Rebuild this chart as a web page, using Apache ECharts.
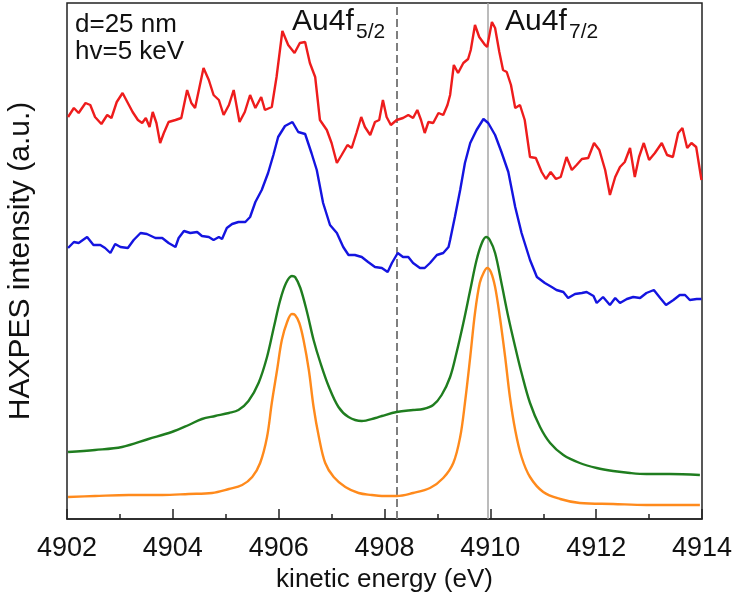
<!DOCTYPE html>
<html>
<head>
<meta charset="utf-8">
<script src="https://cdn.jsdelivr.net/npm/echarts@6/dist/echarts.min.js"></script>
<style>
  html, body { margin: 0; padding: 0; background: #fff; }
  #chart { width: 734px; height: 596px; }
</style>
</head>
<body>
<div id="chart"></div>
<script>
// kinetic energy (eV) vs HAXPES intensity (a.u., offset traces)
const redData = [
  [4902.02, 402], [4902.13, 411], [4902.22, 406], [4902.35, 416], [4902.44, 414], [4902.53, 402],
  [4902.65, 395], [4902.76, 404], [4902.84, 401], [4902.94, 417], [4903.05, 426], [4903.17, 414],
  [4903.24, 407], [4903.34, 399], [4903.42, 396], [4903.49, 401], [4903.56, 392], [4903.62, 407],
  [4903.69, 396], [4903.76, 376], [4903.83, 386], [4903.92, 397], [4904.05, 399], [4904.16, 401],
  [4904.27, 429], [4904.35, 416], [4904.42, 411], [4904.58, 451], [4904.68, 439], [4904.77, 424],
  [4904.87, 419], [4904.96, 404], [4905.06, 414], [4905.15, 429], [4905.26, 397], [4905.36, 407],
  [4905.46, 424], [4905.56, 411], [4905.67, 422], [4905.74, 409], [4905.87, 412], [4905.96, 442],
  [4906.07, 488], [4906.18, 474], [4906.30, 466], [4906.40, 476], [4906.50, 477], [4906.59, 456],
  [4906.69, 442], [4906.78, 399], [4906.91, 389], [4907.00, 376], [4907.10, 356], [4907.19, 364],
  [4907.30, 374], [4907.38, 371], [4907.47, 386], [4907.56, 402], [4907.63, 392], [4907.73, 384],
  [4907.82, 397], [4907.90, 399], [4907.97, 419], [4908.04, 402], [4908.12, 394], [4908.23, 399],
  [4908.35, 401], [4908.45, 404], [4908.54, 401], [4908.62, 409], [4908.69, 399], [4908.76, 386],
  [4908.83, 397], [4908.92, 396], [4909.02, 406], [4909.11, 404], [4909.19, 414], [4909.24, 424],
  [4909.31, 454], [4909.39, 446], [4909.49, 456], [4909.58, 460], [4909.63, 469], [4909.71, 494],
  [4909.79, 482], [4909.90, 474], [4909.94, 472], [4910.03, 497], [4910.09, 491], [4910.17, 467],
  [4910.24, 449], [4910.31, 447], [4910.39, 434], [4910.47, 411], [4910.56, 414], [4910.65, 399],
  [4910.75, 362], [4910.86, 361], [4910.97, 347], [4911.05, 340], [4911.14, 347], [4911.24, 340],
  [4911.33, 342], [4911.44, 362], [4911.54, 349], [4911.63, 354], [4911.73, 360], [4911.85, 361],
  [4911.96, 376], [4912.06, 369], [4912.17, 349], [4912.26, 324], [4912.36, 342], [4912.45, 352],
  [4912.54, 357], [4912.64, 371], [4912.73, 342], [4912.81, 362], [4912.90, 376], [4913.00, 359],
  [4913.11, 366], [4913.24, 376], [4913.34, 364], [4913.45, 362], [4913.55, 386], [4913.63, 391],
  [4913.72, 371], [4913.80, 376], [4913.89, 372], [4913.99, 339]
];

const blueData = [
  [4902.02, 271], [4902.13, 277], [4902.22, 276], [4902.38, 282], [4902.50, 274], [4902.63, 274],
  [4902.72, 271], [4902.82, 266], [4902.91, 275], [4903.01, 272], [4903.15, 271], [4903.26, 279],
  [4903.39, 286], [4903.51, 285], [4903.67, 281], [4903.80, 281], [4903.92, 276], [4904.05, 272],
  [4904.11, 281], [4904.21, 288], [4904.33, 286], [4904.46, 287], [4904.55, 283], [4904.68, 282],
  [4904.77, 279], [4904.87, 282], [4904.93, 280], [4905.02, 291], [4905.12, 295], [4905.24, 297],
  [4905.37, 297], [4905.46, 302], [4905.56, 317], [4905.68, 329], [4905.80, 346], [4905.90, 364],
  [4905.99, 382], [4906.12, 393], [4906.26, 397], [4906.37, 387], [4906.50, 385], [4906.62, 366],
  [4906.72, 349], [4906.84, 316], [4906.97, 294], [4907.10, 286], [4907.22, 272], [4907.32, 264],
  [4907.44, 264], [4907.57, 262], [4907.69, 257], [4907.82, 252], [4907.95, 251], [4908.06, 247],
  [4908.14, 256], [4908.25, 266], [4908.35, 262], [4908.45, 262], [4908.54, 256], [4908.67, 251],
  [4908.76, 251], [4908.86, 256], [4908.99, 264], [4909.11, 266], [4909.21, 272], [4909.24, 279],
  [4909.33, 302], [4909.43, 329], [4909.52, 356], [4909.62, 376], [4909.74, 389], [4909.87, 400],
  [4909.96, 396], [4910.09, 384], [4910.21, 367], [4910.34, 347], [4910.47, 312], [4910.59, 286],
  [4910.75, 259], [4910.88, 242], [4911.03, 236], [4911.16, 232], [4911.25, 229], [4911.38, 227],
  [4911.47, 221], [4911.60, 225], [4911.73, 226], [4911.82, 227], [4911.95, 223], [4912.01, 216],
  [4912.13, 222], [4912.26, 214], [4912.36, 221], [4912.45, 216], [4912.58, 220], [4912.70, 222],
  [4912.83, 221], [4912.95, 226], [4913.09, 229], [4913.21, 221], [4913.32, 214], [4913.46, 219],
  [4913.58, 224], [4913.68, 224], [4913.77, 219], [4913.90, 220], [4913.99, 220]
];

const greenData = [
  [4902.02, 67], [4902.53, 69], [4903.04, 72], [4903.54, 80], [4903.98, 87], [4904.30, 94],
  [4904.55, 100], [4904.80, 103], [4905.06, 106], [4905.24, 109], [4905.43, 118], [4905.62, 136],
  [4905.78, 162], [4905.91, 192], [4906.03, 219], [4906.14, 236], [4906.25, 243], [4906.31, 242],
  [4906.41, 231], [4906.54, 206], [4906.66, 179], [4906.79, 156], [4906.95, 132], [4907.13, 112],
  [4907.32, 102], [4907.57, 98], [4907.83, 101], [4907.95, 103], [4908.23, 107], [4908.54, 109],
  [4908.73, 110], [4908.92, 114], [4909.08, 124], [4909.24, 142], [4909.36, 166], [4909.49, 196],
  [4909.62, 229], [4909.74, 259], [4909.84, 276], [4909.92, 282], [4909.99, 279], [4910.09, 266],
  [4910.21, 236], [4910.34, 202], [4910.47, 172], [4910.59, 146], [4910.75, 116], [4910.94, 92],
  [4911.13, 76], [4911.38, 64], [4911.69, 56], [4912.01, 51], [4912.32, 48], [4912.64, 46],
  [4912.95, 45], [4913.39, 45], [4913.96, 44]
];

const orangeData = [
  [4902.02, 22], [4902.53, 23], [4903.17, 24], [4903.80, 24], [4904.30, 25], [4904.74, 26],
  [4905.06, 30], [4905.31, 34], [4905.50, 42], [4905.65, 56], [4905.78, 82], [4905.87, 116],
  [4905.97, 149], [4906.06, 179], [4906.16, 197], [4906.25, 205], [4906.31, 204], [4906.39, 196],
  [4906.47, 179], [4906.57, 149], [4906.66, 112], [4906.76, 82], [4906.88, 56], [4907.04, 42],
  [4907.26, 32], [4907.51, 26], [4907.76, 24], [4907.95, 23], [4908.23, 23], [4908.54, 26],
  [4908.86, 31], [4909.11, 41], [4909.30, 56], [4909.43, 82], [4909.52, 116], [4909.62, 162],
  [4909.71, 206], [4909.80, 236], [4909.88, 247], [4909.94, 251], [4910.01, 247], [4910.09, 232],
  [4910.18, 202], [4910.28, 162], [4910.37, 122], [4910.47, 89], [4910.59, 62], [4910.75, 42],
  [4911.00, 27], [4911.32, 20], [4911.69, 16], [4912.32, 15], [4912.95, 14], [4913.96, 14]
];

const xTicks = [4902, 4904, 4906, 4908, 4910, 4912, 4914];
const peakLines = [
  { x: 4908.23, type: 'dashed', color: '#7f7f7f', width: 2 },
  { x: 4909.96, type: 'solid', color: '#a6a6a6', width: 1.5 }
];

const FONT = '"Liberation Sans", Arial, sans-serif';
const chart = echarts.init(document.getElementById('chart'));

function lineSeries(name, data, color, extra) {
  return Object.assign({
    name,
    type: 'line',
    data,
    showSymbol: false,
    symbol: 'none',
    lineStyle: { color, width: 2.4 },
    itemStyle: { color },
    z: 3
  }, extra || {});
}

chart.setOption({
  backgroundColor: '#fff',
  animation: false,
  grid: {
    left: 67, right: 32, top: 3, bottom: 77,
    outerBoundsMode: 'none',
    containLabel: false,
    show: true, borderColor: '#222', borderWidth: 1.5, backgroundColor: 'transparent'
  },
  xAxis: {
    type: 'value',
    min: xTicks[0],
    max: xTicks[xTicks.length - 1],
    interval: 2,
    name: 'kinetic energy (eV)',
    nameLocation: 'middle',
    nameGap: 46,
    nameTextStyle: { fontFamily: FONT, fontSize: 26, color: '#111' },
    axisLine: { show: true, lineStyle: { color: '#222', width: 1.5 } },
    axisTick: { show: true, inside: true, length: 10, lineStyle: { color: '#222', width: 1.5 } },
    minorTick: { show: true, splitNumber: 2, length: 5, lineStyle: { color: '#222', width: 1.5 } },
    axisLabel: { fontFamily: FONT, fontSize: 27, color: '#111', margin: 16, formatter: v => String(v) },
    splitLine: { show: false }
  },
  yAxis: {
    type: 'value',
    min: 0,
    max: 516,
    name: 'HAXPES intensity (a.u.)',
    nameLocation: 'middle',
    nameGap: 31,
    nameTextStyle: { fontFamily: FONT, fontSize: 30, color: '#111' },
    axisLine: { show: false },
    axisTick: { show: false },
    axisLabel: { show: false },
    splitLine: { show: false }
  },
  series: [
    lineSeries('d=25 nm', redData, '#ee1c1c', {
      markLine: {
        silent: true,
        symbol: 'none',
        label: { show: false },
        z: 1,
        data: peakLines.map(p => ({
          xAxis: p.x,
          lineStyle: { type: p.type, color: p.color, width: p.width }
        }))
      }
    }),
    lineSeries('blue', blueData, '#1414e0'),
    lineSeries('green', greenData, '#1f7d1f', { smooth: 0.35 }),
    lineSeries('orange', orangeData, '#ff8a1c', { smooth: 0.35 })
  ],
  graphic: [
    { type: 'text', left: 75, top: 12, style: { text: 'd=25 nm', font: '26px ' + FONT, fill: '#111' } },
    { type: 'text', left: 75, top: 39, style: { text: 'hv=5 keV', font: '26px ' + FONT, fill: '#111' } },
    { type: 'text', left: 292, top: 7, style: { text: 'Au4f', font: '30px ' + FONT, fill: '#111' } },
    { type: 'text', left: 356, top: 22, style: { text: '5/2', font: '21px ' + FONT, fill: '#111' } },
    { type: 'text', left: 505, top: 7, style: { text: 'Au4f', font: '30px ' + FONT, fill: '#111' } },
    { type: 'text', left: 569, top: 22, style: { text: '7/2', font: '21px ' + FONT, fill: '#111' } }
  ]
});
</script>
</body>
</html>
